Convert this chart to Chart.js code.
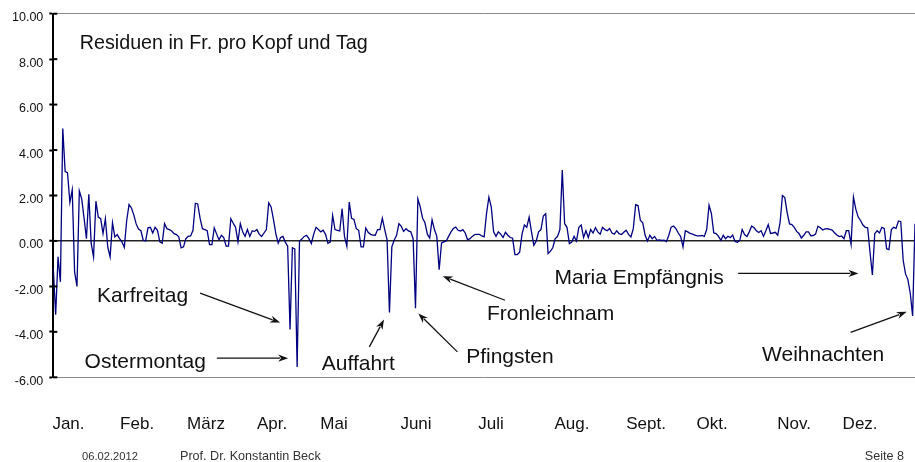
<!DOCTYPE html>
<html>
<head>
<meta charset="utf-8">
<script src="https://cdn.jsdelivr.net/npm/chart.js@4"></script>
<style>
  html, body { margin: 0; background: #fff; }
  canvas { display: block; }
</style>
</head>
<body>
<canvas id="chart" width="915" height="462"></canvas>
<script>
// daily residuals (Fr. per head and day), one value per day of the year
const residuals = [
  -1.2, -3.25, -0.7, -1.8, 4.95, 3.05, 3.0, 1.7, 2.25, -1.36,
  -2.0, 2.2, 1.85, 1.0, 0.1, 2.05, -0.1, -0.7, 1.75, 1.05,
  0.98, 0.32, 0.98, -0.26, -0.7, 0.8, 0.18, 0.28, 0.1, -0.04,
  -0.28, 0.9, 1.6, 1.45, 1.15, 0.75, 0.52, 0.45, 0.03, 0.0,
  0.58, 0.6, 0.35, 0.6, 0.47, -0.04, -0.1, 0.76, 0.54, 0.5,
  0.44, 0.32, 0.28, 0.18, -0.3, -0.26, 0.1, 0.2, 0.22, 0.47,
  1.66, 1.63, 1.0, 0.54, 0.5, 0.45, -0.16, -0.16, 0.58, 0.3,
  0.05, 0.25, 0.15, -0.23, -0.23, 0.98, 0.78, 0.6, -0.04, 0.76,
  0.4, 0.2, 0.5, 0.2, 0.44, 0.42, 0.5, 0.3, 0.2, 0.35,
  0.5, 1.68, 1.5, 0.95, 0.32, -0.1, 0.15, 0.2, -0.05, -0.23,
  -3.9, -0.3, -0.35, -5.55, 0.0, 0.08, 0.2, 0.25, 0.1, -0.12,
  0.3, 0.6, 0.5, 0.4, 0.47, 0.29, -0.1, -0.05, 1.12, 0.5,
  0.47, 0.44, 1.42, 0.2, -0.23, 1.71, 1.0, 0.95, 0.54, 0.47,
  -0.26, -0.26, 0.57, 0.38, 0.29, 0.26, 0.25, 0.5, 0.5, 1.0,
  0.5, 0.05, -3.15, -0.26, 0.03, 0.25, 0.76, 0.64, 0.42, 0.54,
  0.44, 0.4, 0.1, -2.96, 1.85, 1.5, 1.0, 0.8, 0.3, 0.13,
  0.93, 0.5, 0.2, -1.26, -0.09, -0.04, 0.0, 0.2, 0.4, 0.55,
  0.61, 0.47, 0.44, 0.5, 0.35, 0.05, 0.1, 0.2, 0.28, 0.29,
  0.29, 0.22, 0.18, 1.2, 1.93, 1.5, 0.4, 0.2, 0.4, 0.3,
  0.15, 0.38, 0.25, 0.15, 0.12, -0.6, -0.6, -0.5, 0.3, 0.7,
  0.6, 1.05, 0.4, -0.19, 0.0, 0.4, 0.5, 1.1, 1.2, -0.55,
  -0.45, -0.3, 0.1, 0.2, 0.5, 3.12, 0.76, 0.6, -0.12, -0.05,
  0.2, 0.0, 0.6, 0.7, 0.15, 0.45, 0.15, 0.5, 0.35, 0.58,
  0.4, 0.3, 0.6, 0.5, 0.45, 0.55, 0.35, 0.3, 0.45, 0.32,
  0.28, 0.38, 0.47, 0.29, 0.18, 0.54, 1.6, 1.56, 0.9, 0.8,
  0.25, 0.0, 0.25, 0.1, 0.2, 0.03, 0.05, 0.02, 0.03, -0.03,
  0.25, 0.61, 0.66, 0.54, 0.35, 0.2, -0.26, 0.45, 0.4, 0.33,
  0.3, 0.26, 0.22, 0.22, 0.24, 0.2, 0.5, 1.57, 1.2, 0.35,
  0.32, 0.2, 0.03, 0.25, 0.1, 0.2, 0.15, 0.25, -0.02, -0.06,
  0.03, 0.5, 0.28, 0.2, 0.4, 0.66, 0.58, 0.45, 0.37, 0.45,
  0.2, 0.45, 0.72, 0.33, 0.35, 0.38, 0.25, 0.8, 2.0, 1.91,
  1.25, 0.75, 0.72, 0.6, 0.42, 0.33, 0.13, 0.25, 0.4, 0.4,
  0.23, 0.24, 0.3, 0.65, 0.58, 0.48, 0.53, 0.54, 0.51, 0.48,
  0.36, 0.26, 0.19, 0.22, 0.1, 0.45, 0.45, -0.15, 1.93, 1.4,
  1.05, 0.9, 0.7, 0.6, 0.58, -0.5, -1.5, 0.32, 0.45, 0.35,
  0.6, 0.55, -0.34, -0.38, 0.5, 0.6, 0.55, 0.88, 0.85, -0.85,
  -1.45, -1.7, -2.3, -3.3, 0.76
];
const days = residuals.map((_, i) => i);

// month captions and the day they sit over
const monthLabels = ['Jan.', 'Feb.', 'März', 'Apr.', 'Mai', 'Juni', 'Juli', 'Aug.', 'Sept.', 'Okt.', 'Nov.', 'Dez.'];
const monthPos = [6.4, 35.4, 64.5, 92.4, 118.6, 153.2, 184.9, 219.1, 250.4, 278.3, 312.9, 340.8];

const yMin = -6, yMax = 10, yStep = 2;

const title = 'Residuen in Fr. pro Kopf und Tag';

// holiday notes: text anchor and arrow, in (day, value)
const notes = [
  { text: 'Karfreitag',       at: [18.5, -2.7],   from: [62.0, -2.3],   to: [95.8, -3.59] },
  { text: 'Ostermontag',      at: [13.2, -5.6],   from: [69.1, -5.16],  to: [99.2, -5.16] },
  { text: 'Auffahrt',         at: [113.4, -5.69], from: [133.5, -4.66], to: [139.7, -3.46] },
  { text: 'Pfingsten',        at: [174.4, -5.38], from: [170.7, -4.88], to: [154.2, -3.19] },
  { text: 'Fronleichnam',     at: [183.2, -3.49], from: [190.8, -2.61], to: [164.5, -1.55] },
  { text: 'Maria Empfängnis', at: [211.7, -1.9],  from: [289.3, -1.43], to: [340.1, -1.43] },
  { text: 'Weihnachten',      at: [299.4, -5.29], from: [336.8, -4.02], to: [360.5, -3.12] }
];

const footer = ['06.02.2012', 'Prof. Dr. Konstantin Beck', 'Seite 8'];

const FONT = '"Liberation Sans", Arial, Helvetica, sans-serif';

function arrow(ctx, x1, y1, x2, y2) {
  const ang = Math.atan2(y2 - y1, x2 - x1);
  const len = 10, half = 3.6;
  ctx.beginPath();
  ctx.moveTo(x1, y1);
  ctx.lineTo(x2 - Math.cos(ang) * len * 0.8, y2 - Math.sin(ang) * len * 0.8);
  ctx.stroke();
  ctx.beginPath();
  ctx.moveTo(x2, y2);
  ctx.lineTo(x2 - Math.cos(ang) * len - Math.sin(ang) * half, y2 - Math.sin(ang) * len + Math.cos(ang) * half);
  ctx.lineTo(x2 - Math.cos(ang) * len * 0.7, y2 - Math.sin(ang) * len * 0.7);
  ctx.lineTo(x2 - Math.cos(ang) * len + Math.sin(ang) * half, y2 - Math.sin(ang) * len - Math.cos(ang) * half);
  ctx.closePath();
  ctx.fill();
}

const decor = {
  id: 'decor',
  afterDraw(chart) {
    const { ctx, chartArea: a, scales: { x, y } } = chart;
    ctx.save();

    // tick marks cross the axis: right-hand halves
    ctx.strokeStyle = '#000';
    ctx.lineWidth = 2;
    y.ticks.forEach(t => {
      const py = y.getPixelForValue(t.value);
      ctx.beginPath();
      ctx.moveTo(a.left, py);
      ctx.lineTo(a.left + 4, py);
      ctx.stroke();
    });

    ctx.fillStyle = '#111';
    ctx.textBaseline = 'alphabetic';
    ctx.font = '19.7px ' + FONT;
    ctx.fillText(title, a.left + 26.5, a.top + 35);

    ctx.font = '21px ' + FONT;
    ctx.strokeStyle = '#111';
    ctx.lineWidth = 1.3;
    notes.forEach(n => {
      ctx.fillText(n.text, x.getPixelForValue(n.at[0]), y.getPixelForValue(n.at[1]));
      arrow(ctx,
        x.getPixelForValue(n.from[0]), y.getPixelForValue(n.from[1]),
        x.getPixelForValue(n.to[0]), y.getPixelForValue(n.to[1]));
    });

    // footer line of the slide
    ctx.fillStyle = '#333';
    const fy = 460;
    ctx.font = '11.2px ' + FONT;
    ctx.textAlign = 'left';
    ctx.fillText(footer[0], 82, fy);
    ctx.font = '12.6px ' + FONT;
    ctx.fillText(footer[1], 180, fy);
    ctx.textAlign = 'right';
    ctx.fillText(footer[2], 904, fy);

    ctx.restore();
  }
};

new Chart(document.getElementById('chart'), {
  type: 'line',
  data: {
    datasets: [{
      data: days.map(d => ({ x: d, y: residuals[d] })),
      borderColor: '#000080',
      borderWidth: 1.3,
      pointRadius: 0,
      tension: 0,
      fill: false
    }]
  },
  options: {
    responsive: false,
    animation: false,
    events: [],
    layout: { padding: { top: 13.7, right: 0, left: 0, bottom: 0 } },
    plugins: { legend: { display: false }, tooltip: { enabled: false } },
    scales: {
      x: {
        type: 'linear',
        min: 0,
        max: days.length - 1,
        afterFit(scale) { scale.height = 84.7; },
        afterBuildTicks(scale) { scale.ticks = monthPos.map(v => ({ value: v })); },
        grid: { display: true, drawOnChartArea: false, drawTicks: false },
        border: { display: true, color: '#8a8a8a', width: 1 },
        ticks: {
          autoSkip: false,
          maxRotation: 0,
          padding: 37,
          color: '#111',
          font: { family: FONT, size: 17 },
          callback: (v, i) => monthLabels[i]
        }
      },
      y: {
        min: yMin,
        max: yMax,
        afterFit(scale) { scale.width = 53.3; },
        grid: {
          drawOnChartArea: true,
          drawTicks: true,
          tickLength: 4,
          tickColor: '#000',
          tickWidth: 2,
          color: c => c.tick.value === 0 ? '#222' : (c.tick.value === yMax ? '#8a8a8a' : 'rgba(0,0,0,0)'),
          lineWidth: c => c.tick.value === 0 ? 1.5 : 1
        },
        border: { display: true, color: '#000', width: 2 },
        ticks: {
          stepSize: yStep,
          padding: 6,
          labelOffset: 4,
          color: '#111',
          font: { family: FONT, size: 12.5 },
          callback: v => v.toFixed(2)
        }
      }
    }
  },
  plugins: [decor]
});
</script>
</body>
</html>
